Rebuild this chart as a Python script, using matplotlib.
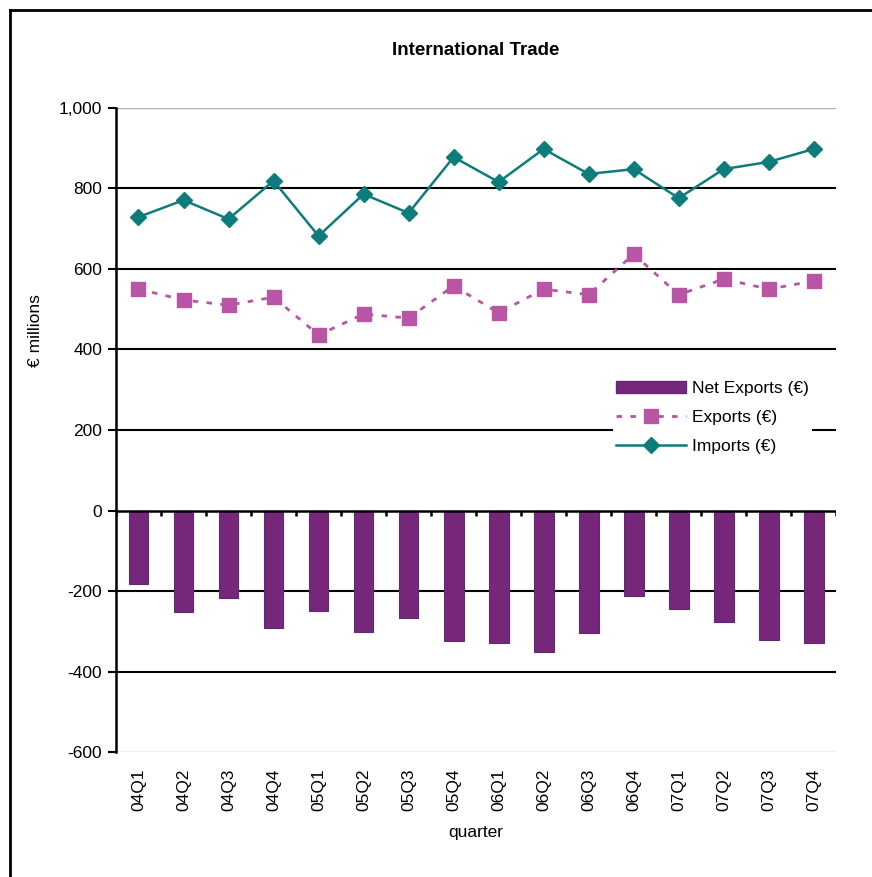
# International trade chart: net exports as bars, exports and imports as lines.

import matplotlib
matplotlib.use("Agg")
import matplotlib.pyplot as plt
from matplotlib.lines import Line2D
from matplotlib.patches import Patch
import numpy as np

plt.rcParams['font.family'] = ['Liberation Sans', 'DejaVu Sans']

quarters = ['04Q1', '04Q2', '04Q3', '04Q4', '05Q1', '05Q2', '05Q3', '05Q4',
            '06Q1', '06Q2', '06Q3', '06Q4', '07Q1', '07Q2', '07Q3', '07Q4']
imports = [729, 771, 724, 819, 682, 786, 739, 878,
           816, 898, 836, 848, 776, 848, 866, 898]
exports = [550, 523, 510, 530, 436, 488, 478, 558,
           491, 550, 536, 637, 536, 575, 550, 570]
net_exports = [-183, -253, -218, -293, -250, -301, -268, -325,
               -328, -352, -305, -213, -245, -278, -322, -330]
y_ticks = [-600, -400, -200, 0, 200, 400, 600, 800, 1000]

bar_col = '#77277A'
exp_col = '#B855A4'
imp_col = '#0E7C7B'

fig = plt.figure(figsize=(8.72, 8.77), dpi=100)
ax = fig.add_axes([0.133, 0.1425, 0.826, 0.7344])

x = np.arange(len(quarters))

# gridlines (black inside, grey at the ends)
for v in y_ticks:
    if v in (y_ticks[0], y_ticks[-1]):
        ax.axhline(v, color='#b0b0b0', lw=1, zorder=1)
    elif v != 0:
        ax.axhline(v, color='black', lw=1.5, zorder=1)

ax.bar(x, net_exports, width=0.44, color=bar_col, edgecolor='#5e2a74', lw=0.8, zorder=2)
ax.plot(x, exports, color=exp_col, lw=2, linestyle=(0, (2, 3)), marker='s',
        markersize=9.5, markeredgecolor=exp_col, zorder=3)
ax.plot(x, imports, color=imp_col, lw=1.8, marker='D', markersize=8, zorder=3)

# category axis at zero with boundary ticks
ax.axhline(0, color='black', lw=1.8, zorder=4)
ax.vlines(np.arange(len(quarters) + 1) - 0.5, 0, -13, color='black', lw=1.8, zorder=4)

ax.set_xlim(-0.5, len(quarters) - 0.5)
ax.set_ylim(y_ticks[0], y_ticks[-1])
ax.set_yticks(y_ticks)
ax.set_yticklabels([f'{v:,}' for v in y_ticks], fontsize=12.5)
ax.set_xticks(x)
ax.set_xticklabels(quarters, rotation=90, fontsize=12.5)
ax.tick_params(axis='x', length=0, pad=12)
ax.tick_params(axis='y', length=6, width=1.5, direction='out', pad=4)

for s in ['top', 'right', 'bottom']:
    ax.spines[s].set_visible(False)
ax.spines['left'].set_linewidth(1.8)

ax.set_title('International Trade', fontsize=13.5, fontweight='bold', pad=38)
ax.set_ylabel('€ millions', fontsize=12.5)
ax.yaxis.set_label_coords(-0.101, 0.655)
ax.set_xlabel('quarter', fontsize=12.5, labelpad=10)

handles = [Patch(facecolor=bar_col, edgecolor='#5e2a74'),
           Line2D([], [], color=exp_col, lw=2, linestyle=(0, (2, 3)), marker='s',
                  markersize=9.5),
           Line2D([], [], color=imp_col, lw=1.8, marker='D', markersize=8)]
leg = ax.legend(handles, ['Net Exports (€)', 'Exports (€)', 'Imports (€)'],
                loc='upper left', bbox_to_anchor=(0.69, 0.581), frameon=True,
                fontsize=12.5, handlelength=4.0, handletextpad=0.35,
                labelspacing=0.78, borderpad=0.2, borderaxespad=0)
leg.get_frame().set_edgecolor('none')
leg.get_frame().set_facecolor('white')
leg.get_frame().set_alpha(1)
leg.set_zorder(5)

# frame around the chart (top and left edges)
fig.add_artist(Line2D([0.0115, 1.0], [0.9886, 0.9886], color='black', lw=2))
fig.add_artist(Line2D([0.0115, 0.0115], [0.0, 0.9886], color='black', lw=2))

fig.savefig('out.png', dpi=100)
